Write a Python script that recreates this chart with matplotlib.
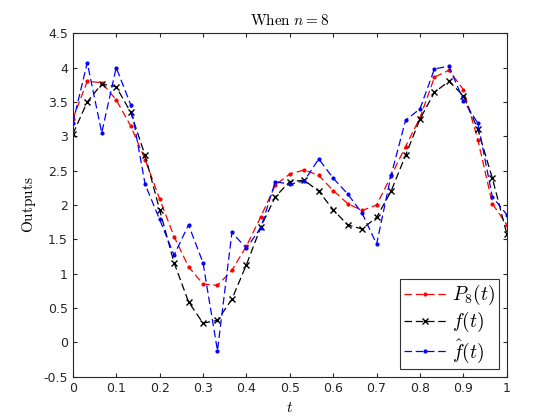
import numpy as np
import matplotlib
matplotlib.use('Agg')
import matplotlib.pyplot as plt

plt.rcParams['mathtext.fontset'] = 'cm'
plt.rcParams['font.family'] = ['DejaVu Sans']

# sample points t = k/30
t = np.arange(31) / 30

# values
P8 = [3.25, 3.80, 3.78, 3.53, 3.15, 2.66, 2.09, 1.54, 1.10, 0.85, 0.83, 1.05, 1.40, 1.83, 2.29, 2.45,
      2.51, 2.43, 2.21, 2.02, 1.92, 2.00, 2.42, 2.85, 3.27, 3.86, 3.96, 3.68, 2.95, 2.02, 1.71]
f = [3.03, 3.50, 3.76, 3.72, 3.35, 2.72, 1.93, 1.16, 0.59, 0.28, 0.32, 0.63, 1.13, 1.68, 2.12, 2.34,
     2.36, 2.20, 1.93, 1.71, 1.65, 1.82, 2.20, 2.72, 3.25, 3.64, 3.80, 3.59, 3.10, 2.39, 1.58]
fhat = [3.19, 4.07, 3.05, 4.00, 3.46, 2.30, 1.79, 1.27, 1.71, 1.16, -0.12, 1.60, 1.37, 1.67, 2.34, 2.30,
        2.35, 2.67, 2.39, 2.16, 1.88, 1.43, 2.43, 3.23, 3.40, 3.98, 4.02, 3.52, 3.19, 2.12, 1.86]

xticks = np.round(np.arange(0, 1.01, 0.1), 1)
yticks = np.arange(-0.5, 4.51, 0.5)

fig = plt.figure(figsize=(5.6, 4.2), dpi=100)
ax = fig.add_axes([0.13, 0.103, 0.775, 0.818])

dash = (6, 3)
ax.plot(t, P8, color='red', marker='.', markersize=4, linewidth=0.9, dashes=dash, label=r'$P_8(t)$')
ax.plot(t, f, color='black', marker='x', markersize=5, linewidth=0.9, dashes=dash, label=r'$f(t)$')
ax.plot(t, fhat, color='blue', marker='.', markersize=4, linewidth=0.9, dashes=dash, label=r'$\hat{f}(t)$')

ax.set_xlim(0, 1)
ax.set_ylim(-0.5, 4.5)
ax.set_xticks(xticks)
ax.set_xticklabels([('%g' % v) for v in xticks])
ax.set_yticks(yticks)
ax.set_yticklabels([('%g' % v) for v in yticks])
ax.tick_params(direction='in', top=True, right=True, labelsize=9, colors='#262626', length=3)
for s in ax.spines.values():
    s.set_color('#262626')
    s.set_linewidth(0.8)

ax.set_title(r'$\mathrm{When}\ n = 8$', fontsize=11)
ax.set_xlabel(r'$t$', fontsize=11)
ax.set_ylabel(r'$\mathrm{Outputs}$', fontsize=11)

leg = ax.legend(loc='lower right', fontsize=14, fancybox=False, edgecolor='black',
                handlelength=2.2, borderpad=0.2, labelspacing=0.15, handletextpad=0.3,
                borderaxespad=0.4)
leg.get_frame().set_linewidth(0.8)

fig.savefig('out.png', dpi=100)
